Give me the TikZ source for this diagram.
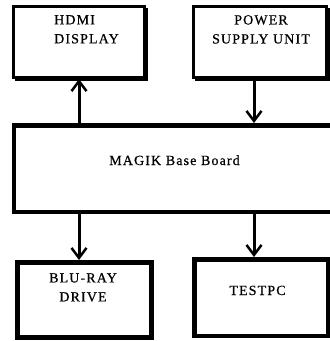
\documentclass[tikz,border=0pt]{standalone}
\usepackage{fontspec}
\usetikzlibrary{arrows.meta}
\newfontfamily\lblfont[LetterSpace=8,FakeBold=0.6]{Liberation Serif}
\tikzset{
  box/.style={draw=black, fill=white, rectangle, inner sep=0pt},
  lbl/.style={inner sep=0pt, font=\lblfont\fontsize{14}{19}\selectfont},
  arr/.style={line width=3pt, -{Straight Barb[length=10pt,width=15pt,line width=2.5pt]}},
  shad/.style={line width=2pt}
}
\begin{document}
\begin{tikzpicture}[x=1pt,y=-1pt]
\useasboundingbox (0,0) rectangle (330,341);
% boxes
\node[box, line width=3pt, minimum width=131pt, minimum height=71pt] (hdmi) at (79,42) {};
\draw[shad] ([xshift=1pt,yshift=-3pt]hdmi.north east) -- ([xshift=1pt,yshift=-1pt]hdmi.south east) -- ([xshift=3pt,yshift=-1pt]hdmi.south west);
\node[box, line width=3pt, minimum width=133pt, minimum height=71pt] (power) at (260,42) {};
\draw[shad] ([xshift=1pt,yshift=-3pt]power.north east) -- ([xshift=1pt,yshift=-1pt]power.south east) -- ([xshift=3pt,yshift=-1pt]power.south west);
\node[box, line width=4.5pt, minimum width=326pt, minimum height=86.5pt] (board) at (177,168.5) {};
\node[box, line width=5pt, minimum width=134pt, minimum height=75pt] (bluray) at (84.5,300) {};
\node[box, line width=4.5pt, minimum width=133.5pt, minimum height=76.5pt] (testpc) at (261,297.5) {};
% texts
\node[lbl, anchor=north west, align=left] (thdmi) at (54,15) {HDMI\\DISPLAY};
\node[lbl, anchor=north, align=center] (tpower) at (261,15) {POWER\\SUPPLY UNIT};
\node[lbl, anchor=base] (tboard) at (174.5,165) {MAGIK Base Board};
\node[lbl, anchor=north, align=center] (tbluray) at (83,273) {BLU-RAY\\DRIVE};
\node[lbl, anchor=base] (ttestpc) at (257.5,295) {TESTPC};
% connectors
\coordinate (p2) at ([xshift=-6pt]power.south);
\coordinate (p3) at ([xshift=-5.5pt]bluray.north);
\coordinate (p4) at ([xshift=-7pt]testpc.north);
\draw[arr] (board.north -| hdmi.south) -- (hdmi.south);
\draw[arr] (p2) -- (p2 |- board.north);
\draw[arr] (p3 |- board.south) -- (p3);
\draw[arr] (p4 |- board.south) -- (p4);
\end{tikzpicture}
\end{document}
